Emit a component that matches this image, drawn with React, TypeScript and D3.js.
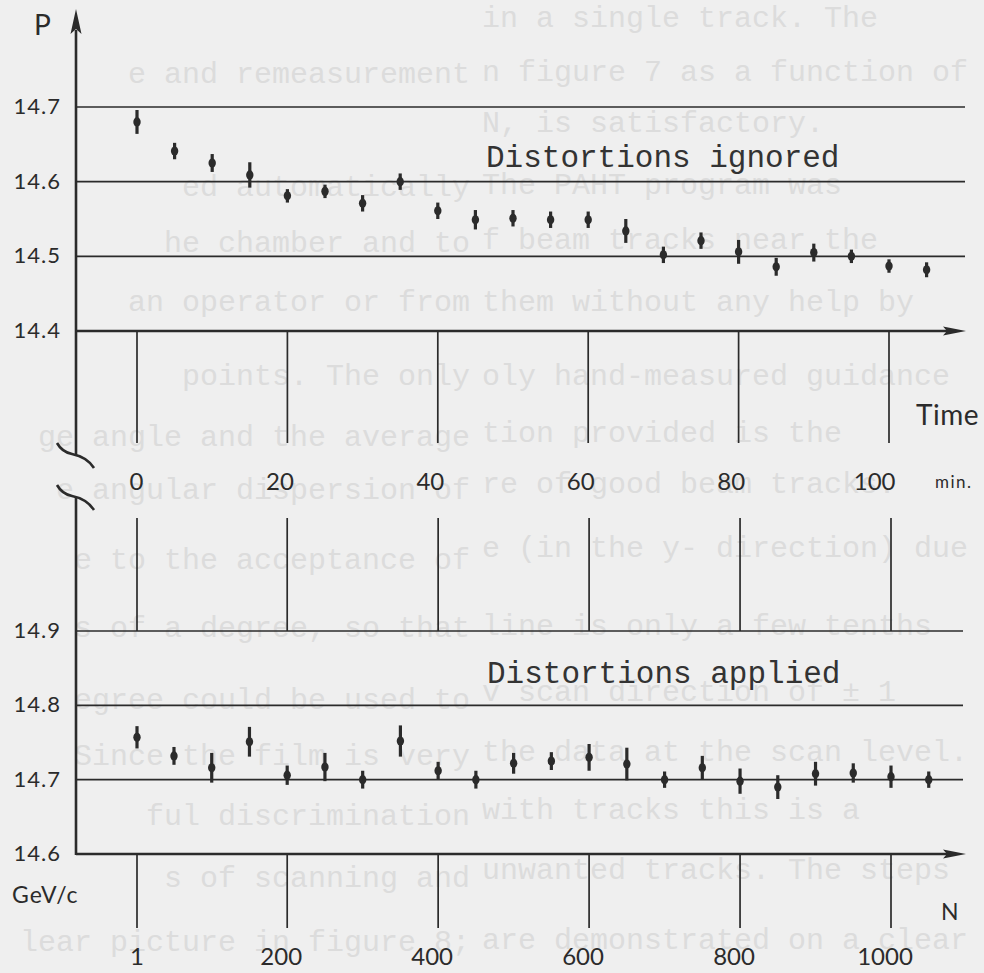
import React from 'react';
import * as d3 from 'd3';

const W = 984;
const H = 973;

// upper panel: beam momentum vs time (distortions ignored)
const timeMin = [0, 5, 10, 15, 20, 25, 30, 35, 40, 45, 50, 55, 60, 65, 70, 75, 80, 85, 90, 95, 100, 105];
const pIgnored = [14.680, 14.641, 14.625, 14.609, 14.581, 14.587, 14.571, 14.600, 14.561, 14.549, 14.551,
  14.549, 14.549, 14.534, 14.502, 14.521, 14.506, 14.486, 14.505, 14.500, 14.487, 14.482];
const errIgnored = [0.016, 0.011, 0.012, 0.017, 0.009, 0.009, 0.011, 0.011, 0.011, 0.013, 0.011,
  0.011, 0.011, 0.016, 0.011, 0.011, 0.016, 0.012, 0.012, 0.009, 0.009, 0.010];

// lower panel: beam momentum vs event number (distortions applied)
const eventN = [1, 50, 100, 150, 200, 250, 300, 350, 400, 450, 500, 550, 600, 650, 700, 750, 800, 850, 900, 950, 1000, 1050];
const pApplied = [14.757, 14.732, 14.716, 14.751, 14.706, 14.717, 14.700, 14.752, 14.712, 14.700, 14.722,
  14.725, 14.730, 14.721, 14.700, 14.716, 14.698, 14.690, 14.708, 14.709, 14.704, 14.700];
const errApplied = [0.015, 0.012, 0.020, 0.020, 0.013, 0.019, 0.012, 0.021, 0.012, 0.012, 0.014,
  0.012, 0.018, 0.022, 0.011, 0.016, 0.017, 0.016, 0.016, 0.013, 0.015, 0.011];

const timeTicks = [0, 20, 40, 60, 80, 100];
const nTicks = [1, 200, 400, 600, 800, 1000];
const pTicksTop = [14.4, 14.5, 14.6, 14.7];
const pTicksBottom = [14.6, 14.7, 14.8, 14.9];

// faint text showing through the scanned page
const bleedLeft = [
  ['e and remeasurement', 74], ['ed automatically', 187], ['he chamber and to', 243],
  ['an operator or from', 302], ['points. The only', 376], ['ge angle and the average', 437],
  ['e angular dispersion of', 490], ['e to the acceptance of', 560], ['s of a degree, so that', 628],
  ['egree could be used to', 700], ['Since the film is very', 756], ['ful discrimination', 816],
  ['s of scanning and', 878], ['lear picture in figure 8;', 942],
];
const bleedRight = [
  ['in a single track. The', 18], ['n figure 7 as a function of', 72], ['N, is satisfactory.', 123],
  ['The PAHT program was', 185], ['f beam tracks near the', 240], ['them without any help by', 302],
  ['oly hand-measured guidance', 376], ['tion provided is the', 433], ['re of good beam tracks.', 484],
  ['e (in the y- direction) due', 548], ['line is only a few tenths', 626], ['v scan direction of \u00b1 1', 692],
  ['the data at the scan level.', 752], ['with tracks this is a', 810], ['unwanted tracks. The steps', 870],
  ['are demonstrated on a clear', 940],
];

const ink = '#2b2b2b';
const sans = 'Lato, "Noto Sans", sans-serif';
const mono = '"Liberation Mono", "DejaVu Sans Mono", monospace';

const axisX = 76;
const lineEnd = 965;

const ErrPoint = ({ x, y0, y1, yc }) => (
  <g>
    <line x1={x} x2={x} y1={y0} y2={y1} stroke={ink} strokeWidth={3.2} />
    <ellipse cx={x} cy={yc} rx={3.7} ry={4.6} fill={ink} />
  </g>
);

const ArrowRight = ({ y }) => (
  <path d={`M${lineEnd + 1},${y} L${lineEnd - 22},${y - 4.5} L${lineEnd - 18},${y} L${lineEnd - 22},${y + 4.5} Z`} fill={ink} />
);

export default function App() {
  const xTime = d3.scaleLinear().domain([0, 100]).range([137, 889]);
  const xN = d3.scaleLinear().domain([1, 1000]).range([137, 891]);
  const yTop = d3.scaleLinear().domain([14.4, 14.7]).range([331, 107]);
  const yBot = d3.scaleLinear().domain([14.6, 14.9]).range([854, 631]);

  const fmt = d3.format('.1f');

  return (
    <>
      <style>{'body{margin:0}'}</style>
      <svg width={W} height={H} viewBox={`0 0 ${W} ${H}`} style={{ display: 'block' }}>
        <rect width={W} height={H} fill="#efefef" />

        <g fontFamily={mono} fontSize={30} fill="#dcdcdc">
          {bleedLeft.map(([t, y], i) => (
            <text key={'l' + i} x={470} y={+y + 9} textAnchor="end">{t}</text>
          ))}
          {bleedRight.map(([t, y], i) => (
            <text key={'r' + i} x={482} y={+y + 9}>{t}</text>
          ))}
        </g>

        {/* upper panel */}
        <g stroke={ink} fill="none">
          {pTicksTop.slice(1).map(v => (
            <line key={v} x1={axisX} x2={lineEnd} y1={yTop(v)} y2={yTop(v)} strokeWidth={1.7} />
          ))}
          <line x1={axisX} x2={lineEnd - 18} y1={yTop(14.4)} y2={yTop(14.4)} strokeWidth={2.6} />
          <line x1={axisX} x2={axisX} y1={30} y2={455} strokeWidth={2.6} />
          {timeTicks.map(t => (
            <line key={t} x1={xTime(t)} x2={xTime(t)} y1={yTop(14.4)} y2={443} strokeWidth={1.7} />
          ))}
          {/* axis break */}
          <path d="M57,443 Q62,452 72,454 Q87,457 94,468" strokeWidth={2.6} />
          <path d="M57,485 Q62,494 72,496 Q87,499 94,510" strokeWidth={2.6} />
        </g>
        <path d={`M${axisX},9 L${axisX - 5.5},34 L${axisX},29 L${axisX + 5.5},34 Z`} fill={ink} />
        <ArrowRight y={yTop(14.4)} />

        <g fontFamily={sans} fontSize={22} fill={ink} textAnchor="end" letterSpacing={1}>
          {pTicksTop.map(v => (
            <text key={v} x={61} y={yTop(v) + 7}>{fmt(v)}</text>
          ))}
        </g>
        <g fontFamily={sans} fontSize={24} fill={ink} textAnchor="end">
          {timeTicks.map(t => (
            <text key={t} x={xTime(t) + 6.5} y={490}>{t}</text>
          ))}
        </g>
        <text x={34} y={35} fontFamily={sans} fontSize={28} fill={ink}>P</text>
        <text x={916} y={425} fontFamily={sans} fontSize={28} fill={ink} letterSpacing={0.5}>Time</text>
        <text x={935} y={488} fontFamily={sans} fontSize={17} fill={ink} letterSpacing={1.5}>min.</text>
        <text x={486} y={167} fontFamily={mono} fontSize={31} fill="#333">Distortions ignored</text>

        {timeMin.map((t, i) => (
          <ErrPoint key={t} x={xTime(t)} y0={yTop(pIgnored[i] + errIgnored[i])}
            y1={yTop(pIgnored[i] - errIgnored[i])} yc={yTop(pIgnored[i])} />
        ))}

        {/* lower panel */}
        <g stroke={ink} fill="none">
          {pTicksBottom.slice(1).map(v => (
            <line key={v} x1={axisX} x2={lineEnd - 2} y1={yBot(v)} y2={yBot(v)} strokeWidth={1.7} />
          ))}
          <line x1={axisX} x2={lineEnd - 18} y1={yBot(14.6)} y2={yBot(14.6)} strokeWidth={2.6} />
          <line x1={axisX} x2={axisX} y1={497} y2={yBot(14.6) + 1} strokeWidth={2.6} />
          {nTicks.map(n => (
            <line key={'t' + n} x1={xN(n)} x2={xN(n)} y1={518} y2={yBot(14.9)} strokeWidth={1.7} />
          ))}
          {nTicks.map(n => (
            <line key={'b' + n} x1={xN(n)} x2={xN(n)} y1={yBot(14.6)} y2={928} strokeWidth={1.7} />
          ))}
        </g>
        <ArrowRight y={yBot(14.6)} />

        <g fontFamily={sans} fontSize={22} fill={ink} textAnchor="end" letterSpacing={1}>
          {pTicksBottom.map(v => (
            <text key={v} x={61} y={yBot(v) + 7}>{fmt(v)}</text>
          ))}
        </g>
        <g fontFamily={sans} fontSize={24} fill={ink} textAnchor="middle">
          {nTicks.map(n => (
            <text key={n} x={xN(n) - (n === 1 ? 0 : 6)} y={965}>{n}</text>
          ))}
        </g>
        <text x={12} y={903} fontFamily={sans} fontSize={23} fill={ink} letterSpacing={1}>GeV/c</text>
        <text x={941} y={920} fontFamily={sans} fontSize={23} fill={ink}>N</text>
        <text x={487} y={683} fontFamily={mono} fontSize={31} fill="#333">Distortions applied</text>

        {eventN.map((n, i) => (
          <ErrPoint key={n} x={xN(n)} y0={yBot(pApplied[i] + errApplied[i])}
            y1={yBot(pApplied[i] - errApplied[i])} yc={yBot(pApplied[i])} />
        ))}
      </svg>
    </>
  );
}
